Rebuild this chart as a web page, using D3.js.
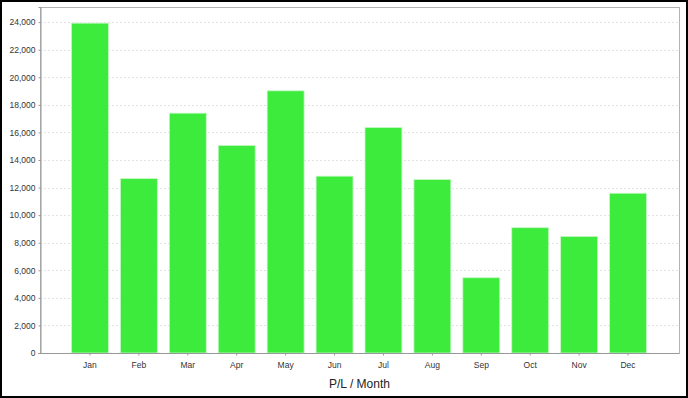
<!DOCTYPE html>
<html>
<head>
<meta charset="utf-8">
<script src="https://cdn.jsdelivr.net/npm/d3@7"></script>
<style>
    body { margin: 0; background: #fff; }
    svg { display: block; font-family: "Liberation Sans", Arial, sans-serif; }
</style>
</head>
<body>
<svg width="688" height="398"></svg>
<script>
const months = ["Jan", "Feb", "Mar", "Apr", "May", "Jun", "Jul", "Aug", "Sep", "Oct", "Nov", "Dec"];
const profit = [23930, 12650, 17400, 15060, 19020, 12830, 16360, 12580, 5460, 9090, 8460, 11590];
const yTicks = [0, 2000, 4000, 6000, 8000, 10000, 12000, 14000, 16000, 18000, 20000, 22000, 24000];
const axisTitle = "P/L / Month";

const width = 688;
const height = 398;
const plot = {left: 40, top: 7, right: 679, bottom: 353};

let svg = d3.select("svg");

// outer frame
svg.append("rect")
    .attr("x", 1)
    .attr("y", 1)
    .attr("width", width - 2)
    .attr("height", height - 2)
    .attr("fill", "#fff")
    .attr("stroke", "#000")
    .attr("stroke-width", 2);

let x = d3.scaleBand()
    .domain(months)
    .range([plot.left + 25.5, plot.right - 26.5])
    .paddingInner(0.245)
    .paddingOuter(0.1225);

let y = d3.scaleLinear()
    .domain([0, 25100])
    .range([plot.bottom, plot.top]);

// grid
svg.append("g")
    .selectAll("line")
    .data(yTicks.filter(d => d > 0))
    .join("line")
    .attr("x1", plot.left)
    .attr("x2", plot.right)
    .attr("y1", d => Math.round(y(d)) + 0.5)
    .attr("y2", d => Math.round(y(d)) + 0.5)
    .attr("stroke", "#e2e2e2")
    .attr("stroke-dasharray", "2,2");

// plot frame
svg.append("rect")
    .attr("x", plot.left + 0.5)
    .attr("y", plot.top + 0.5)
    .attr("width", plot.right - plot.left)
    .attr("height", plot.bottom - plot.top)
    .attr("fill", "none")
    .attr("stroke", "#b4b4b4");

// bars
svg.append("g")
    .selectAll("rect")
    .data(profit)
    .join("rect")
    .attr("x", (d, i) => x(months[i]))
    .attr("y", d => y(d))
    .attr("width", x.bandwidth())
    .attr("height", d => plot.bottom - y(d))
    .attr("fill", "#3deb3d")
    .attr("stroke", "#c8f7c8")
    .attr("stroke-width", 0.8);

// y axis
let yAxis = d3.axisLeft(y)
    .tickValues(yTicks)
    .tickSize(2)
    .tickPadding(3)
    .tickFormat(d3.format(","));
let gy = svg.append("g")
    .attr("transform", "translate(" + (plot.left + 0.5) + ",0)")
    .call(yAxis);
gy.select(".domain").attr("stroke", "#999");
gy.selectAll(".tick line").attr("stroke", "#999");
gy.selectAll(".tick text")
    .attr("fill", "#333")
    .style("font-size", "8.5px");

// x axis
let xAxis = d3.axisBottom(x)
    .tickSize(2)
    .tickPadding(6)
    .tickSizeOuter(0);
let gx = svg.append("g")
    .attr("transform", "translate(0," + (plot.bottom + 0.5) + ")")
    .call(xAxis);
gx.select(".domain").attr("stroke", "#999").attr("d", "M" + plot.left + ",0H" + plot.right);
gx.selectAll(".tick line").attr("stroke", "#999");
gx.selectAll(".tick text")
    .attr("fill", "#333")
    .style("font-size", "8.5px");

svg.append("text")
    .attr("x", (plot.left + plot.right) / 2)
    .attr("y", 388)
    .attr("text-anchor", "middle")
    .attr("fill", "#222")
    .style("font-size", "12px")
    .text(axisTitle);
</script>
</body>
</html>
